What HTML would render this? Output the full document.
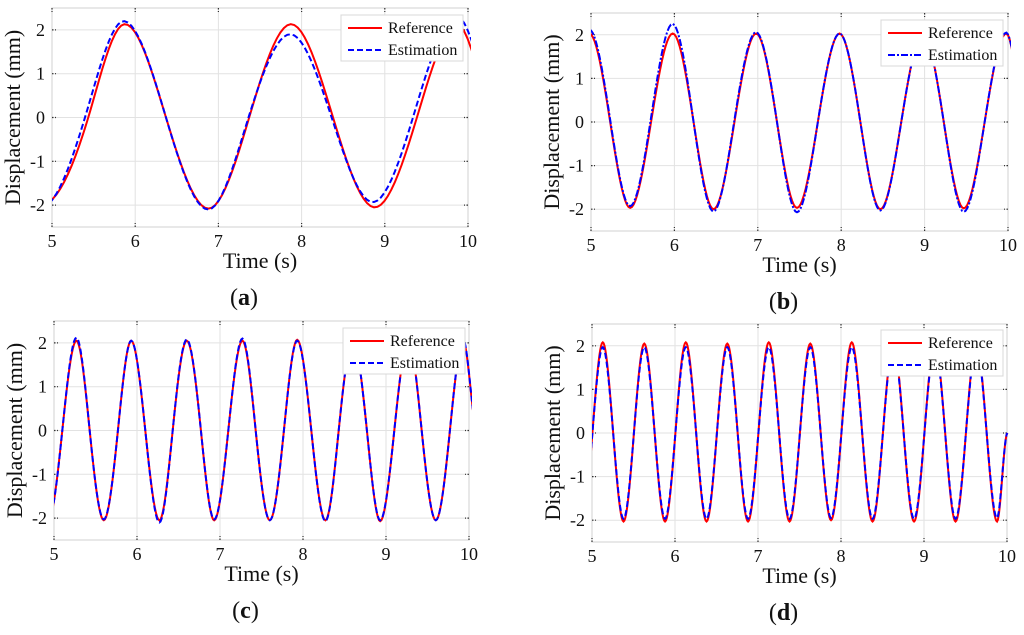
<!DOCTYPE html>
<html><head><meta charset="utf-8"><style>
html,body{margin:0;padding:0;background:#fff;width:1024px;height:635px;overflow:hidden}
svg{display:block;font-family:"Liberation Serif",serif}
</style></head><body>
<svg id="fig" width="1024" height="635"></svg>
<script>
// ---- data ----
const timesA=[4.87,5.42,5.87,6.37,6.88,7.37,7.87,8.37,8.87,9.37,9.87,10.37];
const refA=[-2.0,-0.1,2.13,0.0,-2.08,0.0,2.13,0.05,-2.05,-0.1,2.12,0];
const estA=[-2.05,0.15,2.2,0.0,-2.1,0.05,1.9,-0.05,-1.93,0.2,2.3,0.3];

const timesB=[4.98,5.23,5.47,5.72,5.98,6.23,6.47,6.72,6.98,7.23,7.47,7.72,7.98,8.23,8.47,8.72,8.98,9.23,9.47,9.72,9.98,10.23];
const refB=[2.03,0,-1.97,0,2.03,0,-2.0,0,2.03,0,-1.97,0,2.03,0,-2.0,0,2.03,0,-1.98,0,2.03,0];
const estB=[2.12,0.05,-1.93,0.1,2.25,0,-2.05,0.05,2.06,0,-2.07,0,2.03,0,-2.03,0,2.0,0,-2.06,0,2.05,0];

const timesC=[4.93,5.1,5.27,5.43,5.6,5.77,5.93,6.1,6.27,6.43,6.6,6.77,6.93,7.1,7.27,7.43,7.6,7.77,7.93,8.1,8.27,8.43,8.6,8.77,8.93,9.1,9.27,9.43,9.6,9.77,9.93,10.1];
const refC=[-2.05,0,2.05,0,-2.05,0,2.05,0,-2.05,0,2.05,0,-2.05,0,2.05,0,-2.05,0,2.07,0,-2.05,0,2.05,0,-2.07,0,2.05,0,-2.05,0,2.05,0];
const estC=[-2.05,0,2.12,0,-2.03,0,2.05,0,-2.1,0,2.08,0,-2.03,0,2.1,0,-2.05,0,2.05,0,-2.07,0,2.05,0,-2.05,0,2.05,0,-2.05,0,2.08,0];

const timesD=[4.88,5.005,5.13,5.255,5.38,5.505,5.63,5.755,5.88,6.005,6.13,6.255,6.38,6.505,6.63,6.755,6.88,7.005,7.13,7.255,7.38,7.505,7.63,7.755,7.88,8.005,8.13,8.255,8.38,8.505,8.63,8.755,8.88,9.005,9.13,9.255,9.38,9.505,9.63,9.755,9.88,10.005];
const refD=[-2.03,0,2.08,0,-2.03,0,2.05,0,-2.03,0,2.08,0,-2.03,0,2.05,0,-2.03,0,2.08,0,-2.03,0,2.05,0,-2.0,0,2.08,0,-2.03,0,2.05,0,-2.03,0,2.05,0,-2.03,0,2.05,0,-2.03,0];
const estD=[-1.97,0,1.97,0,-1.97,0,1.97,0,-1.97,0,1.97,0,-1.97,0,1.97,0,-1.97,0,1.97,0,-1.97,0,1.97,0,-1.95,0,1.97,0,-1.97,0,1.97,0,-1.97,0,1.97,0,-1.97,0,1.97,0,-1.95,0];

const xTicks=[5,6,7,8,9,10];
const yTicks=[2,1,0,-1,-2];
const legendLabels=['Reference','Estimation'];

const NS='http://www.w3.org/2000/svg';
const svg=document.getElementById('fig');
function mk(tag,attrs,parent){const e=document.createElementNS(NS,tag);for(const k in attrs)e.setAttribute(k,attrs[k]);(parent||svg).appendChild(e);return e;}

function curve(times,vals,sx,sy){
  const n=times.length;const m=[];
  for(let i=0;i<n;i++){
    let s;
    if(i===0||i===n-1){s=0;}
    else{s=(vals[i+1]-vals[i-1])/(times[i+1]-times[i-1])*1.5;}
    m.push(s);
  }
  let d='M'+sx(times[0]).toFixed(2)+','+sy(vals[0]).toFixed(2);
  for(let i=0;i<n-1;i++){
    const h=times[i+1]-times[i];
    for(let k=1;k<=12;k++){
      const t=k/12,t2=t*t,t3=t2*t;
      const y=(2*t3-3*t2+1)*vals[i]+(t3-2*t2+t)*h*m[i]+(-2*t3+3*t2)*vals[i+1]+(t3-t2)*h*m[i+1];
      const x=times[i]+t*h;
      d+=' L'+sx(x).toFixed(2)+','+sy(y).toFixed(2);
    }
  }
  return d;
}

function panel(p){
  const g=mk('g',{});
  
  
  const sx=t=>p.L+(t-5)/5*(p.R-p.L);
  const sy=v=>p.T+(2.5-v)/5*(p.B-p.T);
  xTicks.forEach(t=>{
    const l=mk('line',{x1:sx(t),x2:sx(t),y1:p.T,y2:p.B,stroke:'#e2e2e2','stroke-width':1},g);
    
  });
  yTicks.forEach(v=>{
    const l=mk('line',{x1:p.L,x2:p.R,y1:sy(v),y2:sy(v),stroke:'#e2e2e2','stroke-width':1},g);
    
  });
  const box=mk('rect',{x:p.L,y:p.T,width:p.R-p.L,height:p.B-p.T,fill:'none',stroke:'#d8d8d8','stroke-width':1.2},g);
  
  xTicks.forEach(t=>{
    mk('line',{x1:sx(t),x2:sx(t),y1:p.T,y2:p.T+4,stroke:'#333','stroke-width':1.2,'stroke-dasharray':'1.5,1.5'},g);
    mk('line',{x1:sx(t),x2:sx(t),y1:p.B,y2:p.B-4,stroke:'#333','stroke-width':1.2,'stroke-dasharray':'1.5,1.5'},g);
    const tx=mk('text',{x:sx(t),y:p.B+20,'text-anchor':'middle','font-size':18,fill:'#111'},g);
    tx.textContent=t;
  });
  yTicks.forEach(v=>{
    mk('line',{x1:p.L,x2:p.L+4,y1:sy(v),y2:sy(v),stroke:'#333','stroke-width':1.2,'stroke-dasharray':'1.5,1.5'},g);
    mk('line',{x1:p.R,x2:p.R-4,y1:sy(v),y2:sy(v),stroke:'#333','stroke-width':1.2,'stroke-dasharray':'1.5,1.5'},g);
    const tx=mk('text',{x:p.L-7,y:sy(v)+6,'text-anchor':'end','font-size':18,fill:'#111'},g);
    tx.textContent=v;
  });
  const clip=mk('clipPath',{id:'clip'+p.id},g);
  mk('rect',{x:p.L,y:p.T,width:p.R-p.L+3,height:p.B-p.T},clip);
  const r=mk('path',{d:curve(p.times,p.ref,sx,sy),fill:'none',stroke:'#ff0000','stroke-width':2,'clip-path':'url(#clip'+p.id+')'},g);
  
  const e=mk('path',{d:curve(p.times,p.est,sx,sy),fill:'none',stroke:'#0000ff','stroke-width':2,'stroke-dasharray':p.dash,'clip-path':'url(#clip'+p.id+')'},g);
  
  const lg=mk('g',{},g);
  
  mk('rect',{x:p.lx,y:p.ly,width:122,height:46,fill:'#fff',stroke:'#d8d8d8','stroke-width':1},lg);
  [['#ff0000','none'],['#0000ff',p.dash]].forEach((s,i)=>{
    const yy=p.ly+13+i*22;
    const ln=mk('line',{x1:p.lx+7,x2:p.lx+41,y1:yy,y2:yy,stroke:s[0],'stroke-width':2,'stroke-dasharray':s[1]},lg);
    
    const tx=mk('text',{x:p.lx+47,y:yy+5,'font-size':16,fill:'#111'},lg);
    tx.textContent=legendLabels[i];
  });
  const xt=mk('text',{x:(p.L+p.R)/2,y:p.B+41,'text-anchor':'middle','font-size':22,fill:'#111'},g);
  xt.textContent='Time (s)';
  const cy=(p.T+p.B)/2;
  const yt=mk('text',{x:p.L-32,y:cy,'text-anchor':'middle','font-size':22,fill:'#111',transform:'rotate(-90 '+(p.L-32)+' '+cy+')'},g);
  yt.textContent='Displacement (mm)';
  const pl=mk('text',{x:(p.L+p.R)/2-16,y:p.B+78,'text-anchor':'middle','font-size':24,fill:'#111'},g);
  pl.innerHTML='(<tspan font-weight="bold">'+p.id+'</tspan>)';
  
}

panel({id:'a',L:52,R:468,T:8,B:227,times:timesA,ref:refA,est:estA,dash:'6,3',lx:341,ly:15});
panel({id:'b',L:591,R:1008,T:13,B:231,times:timesB,ref:refB,est:estB,dash:'7,2,2,2',lx:881,ly:20});
panel({id:'c',L:54,R:469,T:321,B:540,times:timesC,ref:refC,est:estC,dash:'6,3',lx:343,ly:328});
panel({id:'d',L:592,R:1007,T:324,B:542,times:timesD,ref:refD,est:estD,dash:'6,3',lx:881,ly:330});
</script>
</body></html>
